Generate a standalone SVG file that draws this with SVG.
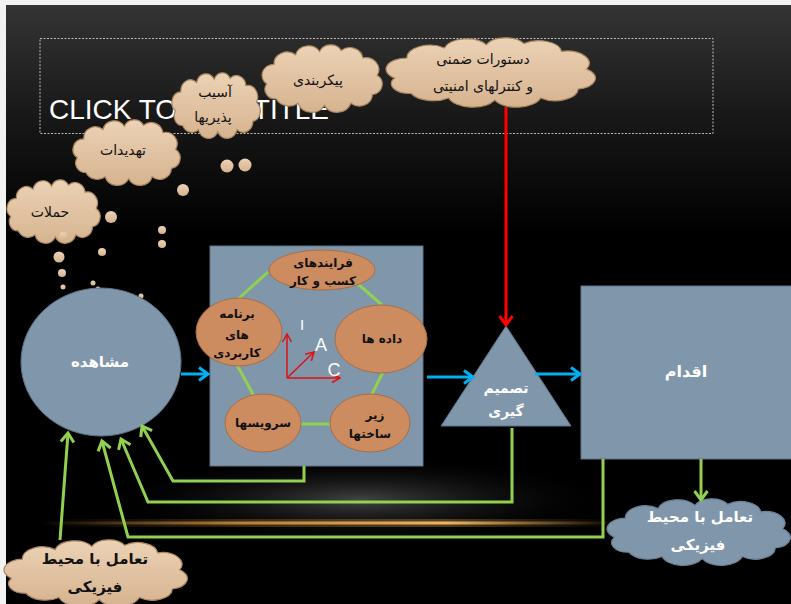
<svg xmlns="http://www.w3.org/2000/svg" width="791" height="604" viewBox="0 0 791 604">
<style>
.cloudTan{fill:url(#tanGrad);stroke:#a8865f;stroke-width:1.2}
.cloudBlue{fill:#7f96ab;stroke:#6c8197;stroke-width:1.2}
.dot{fill:url(#tanGrad)}
.ell{fill:#cd8c5f;stroke:#a86e44;stroke-width:1}
.slate{fill:#7f96ab;stroke:#5f7489;stroke-width:1}
.tx{font-family:"DejaVu Sans",sans-serif;text-anchor:middle;fill:#111}
.tb{font-family:"DejaVu Sans",sans-serif;text-anchor:middle;fill:#fff;font-weight:bold}
.ts{font-family:"DejaVu Sans",sans-serif;text-anchor:middle;fill:#111;font-weight:bold;font-size:12px}
.g{fill:none;stroke:#92d050;stroke-width:3}
.gl{fill:none;stroke:#92d050;stroke-width:3;marker-end:url(#ag)}
.bl{fill:none;stroke:#00b0f0;stroke-width:3;marker-end:url(#ab)}
.rd{fill:none;stroke:#ff0000;stroke-width:3;marker-end:url(#ar)}
.rt{fill:none;stroke:#e01010;stroke-width:1.5;marker-end:url(#art)}
.lt{font-family:"Liberation Sans",sans-serif;fill:#fff}
</style>
<defs>
<linearGradient id="bg" x1="0" y1="0" x2="0" y2="1">
<stop offset="0" stop-color="#343434"/>
<stop offset="0.2" stop-color="#161616"/>
<stop offset="0.38" stop-color="#000"/>
<stop offset="1" stop-color="#000"/>
</linearGradient>
<linearGradient id="tanGrad" x1="0" y1="0" x2="0" y2="1">
<stop offset="0" stop-color="#ecd2b6"/>
<stop offset="1" stop-color="#d6b38f"/>
</linearGradient>
<linearGradient id="gold" x1="0" y1="0" x2="1" y2="0">
<stop offset="0" stop-color="#c88a3a" stop-opacity="0"/>
<stop offset="0.35" stop-color="#d9963f" stop-opacity="0.8"/>
<stop offset="0.7" stop-color="#f0b560" stop-opacity="1"/>
<stop offset="1" stop-color="#c88a3a" stop-opacity="0"/>
</linearGradient>
<radialGradient id="glow" cx="0.5" cy="0.5" r="0.5">
<stop offset="0" stop-color="#5a5a5a" stop-opacity="0.75"/>
<stop offset="1" stop-color="#000" stop-opacity="0"/>
</radialGradient>
<path id="cloud" vector-effect="non-scaling-stroke" d="M4,36 A10,10 0 0 1 10,18 A11,11 0 0 1 28,9 A11,11 0 0 1 48,6 A10,10 0 0 1 66,5 A11,11 0 0 1 84,12 A11,11 0 0 1 96,28 A10,10 0 0 1 92,46 A11,11 0 0 1 74,54 A12,12 0 0 1 52,56 A12,12 0 0 1 30,54 A12,12 0 0 1 12,50 A9,9 0 0 1 4,36 Z"/>
<marker id="ag" markerUnits="userSpaceOnUse" markerWidth="16" markerHeight="16" refX="11" refY="8" orient="auto"><path d="M2,1.5 L11,8 L2,14.5" fill="none" stroke="#92d050" stroke-width="3"/></marker>
<marker id="ab" markerUnits="userSpaceOnUse" markerWidth="16" markerHeight="16" refX="11" refY="8" orient="auto"><path d="M2,1.5 L11,8 L2,14.5" fill="none" stroke="#00b0f0" stroke-width="3"/></marker>
<marker id="ar" markerUnits="userSpaceOnUse" markerWidth="16" markerHeight="16" refX="11" refY="8" orient="auto"><path d="M2,1.5 L11,8 L2,14.5" fill="none" stroke="#ff0000" stroke-width="3"/></marker>
<marker id="art" markerUnits="userSpaceOnUse" markerWidth="12" markerHeight="12" refX="9" refY="6" orient="auto"><path d="M1,1.5 L9,6 L1,10.5" fill="none" stroke="#e01010" stroke-width="1.5"/></marker>
</defs>

<rect x="0" y="0" width="791" height="604" fill="#f2f2f2"/>
<rect x="6" y="5" width="785" height="599" fill="url(#bg)"/>
<ellipse cx="360" cy="500" rx="260" ry="45" fill="url(#glow)"/>
<rect x="40" y="521.5" width="580" height="3" fill="url(#gold)"/>
<rect x="40" y="519" width="580" height="8" fill="url(#gold)" opacity="0.3"/>

<g id="title">
<rect x="40" y="38.5" width="673" height="95" fill="none" stroke="#bbb" stroke-width="1" stroke-dasharray="2,1.5"/>
<text class="lt" x="49" y="119" font-size="28">CLICK TO</text>
<text class="lt" x="252.8" y="119" font-size="28">TITLE</text>
</g>

<g id="dots">
<circle class="dot" cx="227" cy="166" r="6.5"/>
<circle class="dot" cx="245" cy="165" r="6.5"/>
<circle class="dot" cx="183" cy="190" r="6"/>
<circle class="dot" cx="111" cy="217" r="6"/>
<circle class="dot" cx="162" cy="230" r="4"/>
<circle class="dot" cx="162" cy="244" r="4"/>
<circle class="dot" cx="102" cy="252" r="4"/>
<circle class="dot" cx="59" cy="257" r="5.5"/>
<circle class="dot" cx="62" cy="273" r="4"/>
<circle class="dot" cx="63" cy="287" r="2.5"/>
<circle class="dot" cx="93" cy="283" r="2.5"/>
<circle class="dot" cx="98" cy="289" r="2.5"/>
<circle class="dot" cx="141" cy="296" r="2.5"/>
</g>

<g id="cloud-attacks">
<use href="#cloud" class="cloudTan" transform="translate(7,180) scale(0.93,1.016)"/>
<circle class="dot" cx="63" cy="236" r="4"/>
<text class="tx" x="50" y="217" font-size="14">حملات</text>
</g>
<g id="cloud-threats">
<use href="#cloud" class="cloudTan" transform="translate(73,120) scale(1.07,1.05)"/>
<text class="tx" x="123" y="155" font-size="14">تهدیدات</text>
</g>
<g id="cloud-vuln">
<use href="#cloud" class="cloudTan" transform="translate(172,73) scale(0.88,1.05)"/>
<text class="tx" x="215" y="97" font-size="14">آسیب</text>
<text class="tx" x="213" y="122" font-size="14">پذیریها</text>
</g>
<g id="cloud-config">
<use href="#cloud" class="cloudTan" transform="translate(262,45) scale(1.2,1.08)"/>
<text class="tx" x="318" y="85" font-size="14">پیکربندی</text>
</g>
<g id="cloud-policies">
<use href="#cloud" class="cloudTan" transform="translate(386,38) scale(2.09,1.11)"/>
<text class="tx" x="483" y="64" font-size="14">دستورات ضمنی</text>
<text class="tx" x="483" y="91" font-size="14">و کنترلهای امنیتی</text>
</g>

<g id="observe">
<ellipse class="slate" cx="101" cy="362" rx="80" ry="74"/>
<text class="tb" x="100" y="367" font-size="15">مشاهده</text>
</g>

<g id="assets">
<rect class="slate" x="210" y="246" width="213" height="220"/>
<g class="g">
<line x1="237" y1="300" x2="268" y2="272"/>
<line x1="358" y1="284" x2="382" y2="305"/>
<line x1="383" y1="372" x2="371" y2="396"/>
<line x1="301" y1="424" x2="331" y2="424"/>
<line x1="237" y1="365" x2="254" y2="396"/>
</g>
<ellipse class="ell" cx="322" cy="270" rx="53" ry="20"/>
<text class="ts" x="323" y="267">فرایندهای</text>
<text class="ts" x="323" y="285">کسب و کار</text>
<ellipse class="ell" cx="381" cy="339" rx="46" ry="34"/>
<text class="ts" x="382" y="343">داده ها</text>
<ellipse class="ell" cx="370" cy="423" rx="40" ry="29"/>
<text class="ts" x="375" y="419">زیر</text>
<text class="ts" x="370" y="438">ساختها</text>
<ellipse class="ell" cx="263" cy="423" rx="38" ry="29"/>
<text class="ts" x="263" y="427">سرویسها</text>
<ellipse class="ell" cx="239" cy="332" rx="43" ry="34"/>
<text class="ts" x="237" y="318">برنامه</text>
<text class="ts" x="237" y="339">های</text>
<text class="ts" x="237" y="357">کاربردی</text>
<line class="rt" x1="287" y1="378" x2="287" y2="334"/>
<line class="rt" x1="287" y1="378" x2="340" y2="378"/>
<line class="rt" x1="287" y1="378" x2="314" y2="352"/>
<text class="lt" x="302" y="330" font-size="15" text-anchor="middle">I</text>
<text class="lt" x="321" y="351" font-size="18" text-anchor="middle">A</text>
<text class="lt" x="334" y="376" font-size="18" text-anchor="middle">C</text>
</g>

<g id="decide">
<polygon class="slate" points="506,326 441,426 571,426"/>
<text class="tb" x="506" y="393" font-size="14">تصمیم</text>
<text class="tb" x="506" y="416" font-size="14">گیری</text>
</g>

<g id="act">
<rect class="slate" x="581" y="286" width="212" height="173"/>
<text class="tb" x="686" y="377" font-size="16">اقدام</text>
</g>

<g id="physical-right">
<use href="#cloud" class="cloudBlue" transform="translate(607,499) scale(1.83,1.065)"/>
<text class="tb" x="700" y="522" font-size="15">تعامل با محیط</text>
<text class="tb" x="698" y="550" font-size="15">فیزیکی</text>
</g>

<g id="physical-left">
<use href="#cloud" class="cloudTan" transform="translate(4,540) scale(1.83,1.065)"/>
<text class="tx" x="95" y="564" font-size="15" font-weight="bold">تعامل با محیط</text>
<text class="tx" x="95" y="592" font-size="15" font-weight="bold">فیزیکی</text>
</g>

<g id="connectors">
<line class="bl" x1="181" y1="374" x2="208" y2="374"/>
<line class="bl" x1="427" y1="377" x2="473" y2="377"/>
<line class="bl" x1="535" y1="374" x2="580" y2="374"/>
<line class="rd" x1="506" y1="107" x2="506" y2="325"/>
<polyline class="gl" points="304,466 304,481 173,481 142,426"/>
<polyline class="gl" points="512,428 512,502 148,502 121,439"/>
<polyline class="gl" points="603,459 603,537 128,537 102,441"/>
<polyline class="gl" points="60,540 68,433"/>
<polyline class="gl" points="701,459 701,500"/>
</g>
</svg>
